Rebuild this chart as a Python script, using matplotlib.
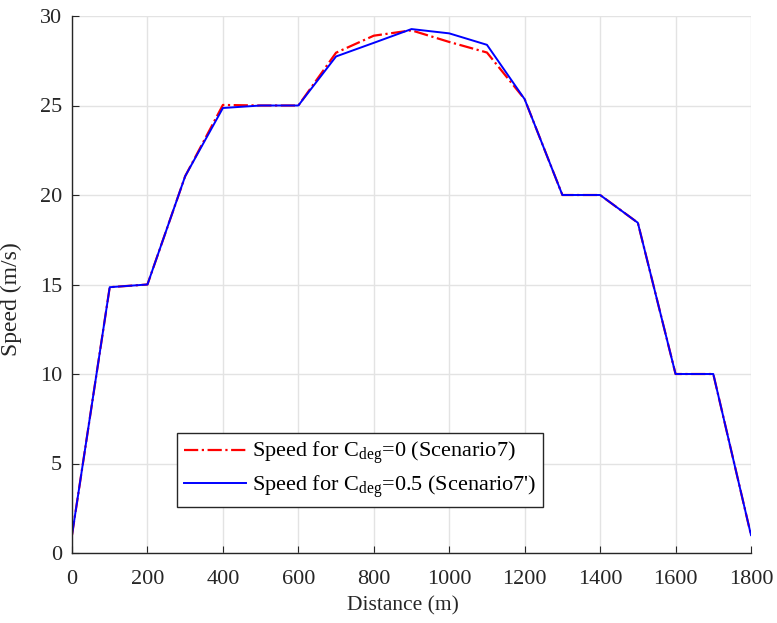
import numpy as np
import matplotlib
matplotlib.use('Agg')
import matplotlib.pyplot as plt

# distance along route (m)
distance = [0, 100, 200, 300, 400, 500, 600, 700, 800, 900, 1000, 1100, 1200, 1300, 1400, 1500, 1600, 1700, 1800]
# speed profiles (m/s)
speed_s7 = [1.0, 14.85, 15.0, 21.05, 25.03, 25.0, 25.0, 27.95, 28.9, 29.2, 28.55, 27.96, 25.35, 20.0, 20.0, 18.45, 10.0, 10.0, 1.0]
speed_s7p = [1.0, 14.85, 15.0, 21.05, 24.86, 25.0, 25.0, 27.74, 28.5, 29.27, 29.03, 28.39, 25.35, 20.0, 20.0, 18.45, 10.0, 10.0, 1.0]

label_s7 = r'Speed for C$_{\rm deg}$=0 (Scenario7)'
label_s7p = r"Speed for C$_{\rm deg}$=0.5 (Scenario7')"

plt.rcParams['font.family'] = ['Liberation Serif', 'DejaVu Serif']
plt.rcParams['mathtext.fontset'] = 'custom'
plt.rcParams['mathtext.rm'] = 'Liberation Serif'
plt.rcParams['font.size'] = 16

fig = plt.figure(figsize=(7.77, 6.23), dpi=100)
ax = fig.add_axes([72 / 777, 1 - 553 / 623, (751 - 72) / 777, (553 - 16) / 623])

ax.plot(distance, speed_s7, color='#ff0000', linestyle='-.', linewidth=1.6, label=label_s7)
ax.plot(distance, speed_s7p, color='#0000ff', linestyle='-', linewidth=1.4, label=label_s7p)

ax.set_xlim(0, 1800)
ax.set_ylim(0, 30)
ax.set_xticks(np.arange(0, 1801, 200))
ax.set_yticks(np.arange(0, 31, 5))
ax.grid(True, color='#e3e3e3', linewidth=1.0)
ax.set_axisbelow(True)

for s in ['top', 'right']:
    ax.spines[s].set_visible(False)
for s in ['left', 'bottom']:
    ax.spines[s].set_color('#262626')
    ax.spines[s].set_linewidth(1.0)
ax.tick_params(direction='in', length=5, color='#262626', labelcolor='#262626')
ax.tick_params(axis='x', pad=12.5)
ax.tick_params(axis='y', pad=7)

ax.set_xlabel('Distance (m)', color='#262626', fontsize=15.5)
ax.xaxis.set_label_coords(0.488, -0.08)
ax.set_ylabel('Speed (m/s)', color='#262626', fontsize=17)
ax.yaxis.set_label_coords(-0.074, 0.473)

leg = ax.legend(loc='lower left', bbox_to_anchor=(0.155, 0.085), fancybox=False,
                edgecolor='#262626', framealpha=1.0, handlelength=2.8,
                borderpad=0.3, labelspacing=0.3, handletextpad=0.25, borderaxespad=0)
leg.get_frame().set_linewidth(1.0)

fig.savefig('out.png', dpi=100)
